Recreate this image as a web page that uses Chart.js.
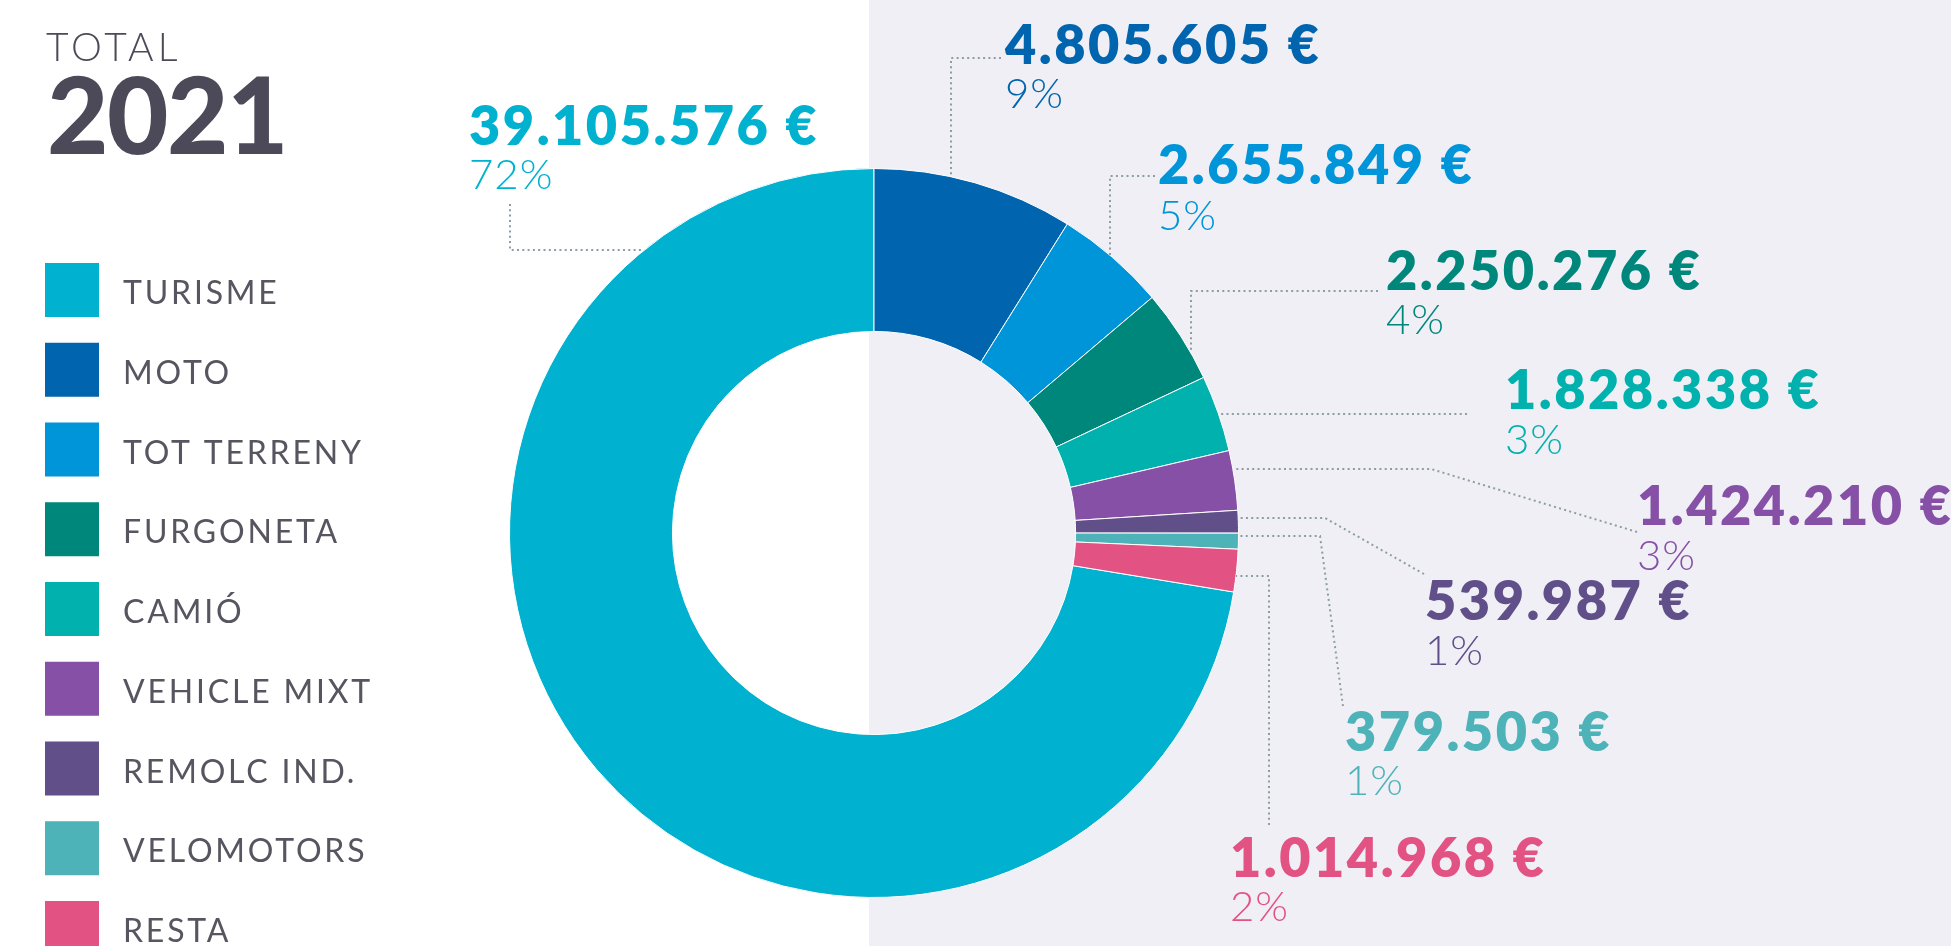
<!DOCTYPE html>
<html lang="ca">
<head>
<meta charset="utf-8">
<title>Total 2021</title>
<script src="https://cdn.jsdelivr.net/npm/chart.js"></script>
<style>
  html, body { margin: 0; padding: 0; }
  body { width: 1951px; height: 946px; overflow: hidden; background: #ffffff; position: relative; }
  #fondo { position: absolute; left: 869px; top: 0; right: 0; bottom: 0; background: #efeff5; }
  #myChart { position: absolute; left: 0; top: 0; }
</style>
</head>
<body>
<div id="fondo"></div>
<canvas id="myChart" width="1951" height="946"></canvas>
<script>
// Datos del gráfico
const titulo = 'TOTAL';
const anyo = '2021';
const categorias = ['TURISME', 'MOTO', 'TOT TERRENY', 'FURGONETA', 'CAMIÓ', 'VEHICLE MIXT', 'REMOLC IND.', 'VELOMOTORS', 'RESTA'];
const importes = [39105576, 4805605, 2655849, 2250276, 1828338, 1424210, 539987, 379503, 1014968];
const colores = ['#00b2cf', '#0065ae', '#0095d9', '#00877c', '#00b1ae', '#8650a6', '#614f89', '#4db3b8', '#e25283'];

// Donde va cada etiqueta (x, base del importe, base del %) y los puntos de la línea punteada.
// 'v' = baja en vertical hasta el aro, 'h' = va en horizontal hasta el aro
const etiquetas = [
    { x: 469, y1: 145, y2: 189, linea: [[510, 204], [510, 250]], hacia: 'h' },
    { x: 1005, y1: 64, y2: 108, linea: [[1001, 58], [951, 58]], hacia: 'v' },
    { x: 1158, y1: 184, y2: 230, linea: [[1155, 176], [1110, 176]], hacia: 'v' },
    { x: 1386, y1: 290, y2: 334, linea: [[1378, 291], [1191, 291]], hacia: 'v' },
    { x: 1505, y1: 409, y2: 454, linea: [[1467, 414]], hacia: 'h' },
    { x: 1637, y1: 525, y2: 570, linea: [[1637, 532], [1431, 469]], hacia: 'h' },
    { x: 1425, y1: 620, y2: 665, linea: [[1424, 574], [1325, 518]], hacia: 'h' },
    { x: 1345, y1: 751, y2: 795, linea: [[1343, 706], [1320, 536]], hacia: 'h' },
    { x: 1230, y1: 877, y2: 921, linea: [[1269, 825], [1269, 576]], hacia: 'h' }
];

const total = importes.reduce((a, b) => a + b, 0);
const formatoEuros = (n) => n.toString().replace(/\B(?=(\d{3})+(?!\d))/g, '.') + ' €';

const ctx = document.getElementById('myChart');

// Dibuja título, leyenda y etiquetas con sus líneas
const textos = {
    id: 'textos',
    afterDraw(chart) {
        const c = chart.ctx;
        const arcos = chart.getDatasetMeta(0).data;
        c.save();
        c.textBaseline = 'alphabetic';
        c.textAlign = 'left';

        // título
        c.fillStyle = '#4c4a59';
        c.letterSpacing = '4px';
        c.font = '300 39px Lato';
        c.fillText(titulo, 46, 61);
        c.letterSpacing = '-1.5px';
        c.font = '900 106px Lato';
        c.fillText(anyo, 47, 154);

        // leyenda
        categorias.forEach((cat, i) => {
            const y = 263 + i * 79.75;
            c.fillStyle = colores[i];
            c.fillRect(45, y, 54, 54);
            c.fillStyle = '#57555f';
            c.letterSpacing = '2.8px';
            c.font = '400 32px Lato';
            c.fillText(cat, 123, y + 41);
        });

        // líneas punteadas
        c.strokeStyle = '#8d9ca5';
        c.lineWidth = 2;
        c.setLineDash([2, 3.3]);
        arcos.forEach((arco, i) => {
            const e = etiquetas[i];
            const cx = arco.x, cy = arco.y, r = arco.outerRadius;
            const ult = e.linea[e.linea.length - 1];
            let fin;
            if (e.hacia === 'v') {
                const dx = ult[0] - cx;
                fin = [ult[0], cy + (ult[1] < cy ? -1 : 1) * Math.sqrt(r * r - dx * dx)];
            } else {
                const dy = ult[1] - cy;
                fin = [cx + (ult[0] > cx ? 1 : -1) * Math.sqrt(r * r - dy * dy), ult[1]];
            }
            c.beginPath();
            c.moveTo(e.linea[0][0], e.linea[0][1]);
            e.linea.slice(1).forEach(p => c.lineTo(p[0], p[1]));
            c.lineTo(fin[0], fin[1]);
            c.stroke();
        });
        c.setLineDash([]);

        // importes y porcentajes
        importes.forEach((valor, i) => {
            const e = etiquetas[i];
            c.fillStyle = colores[i];
            c.letterSpacing = '2.5px';
            c.font = '800 54px Lato';
            c.fillText(formatoEuros(valor), e.x, e.y1);
            c.letterSpacing = '1px';
            c.font = '300 42px Lato';
            c.fillText(Math.round(valor / total * 100) + '%', e.x, e.y2);
        });
        c.restore();
    }
};

const crearGrafico = () => {
    new Chart(ctx, {
        type: 'doughnut',
        data: {
            labels: categorias,
            datasets: [{
                data: importes,
                backgroundColor: colores,
                borderColor: '#ffffff',
                borderWidth: 1
            }]
        },
        options: {
            responsive: false,
            animation: false,
            events: [],
            // que la moto empiece arriba y el turisme cierre la vuelta
            rotation: 360 * (1 - importes[0] / total),
            cutout: '55.3%',
            layout: { padding: { left: 509, right: 712, top: 168, bottom: 48 } },
            plugins: {
                legend: { display: false },
                tooltip: { enabled: false }
            }
        },
        plugins: [textos]
    });
};

Promise.all([
    document.fonts.load('300 39px Lato'),
    document.fonts.load('400 32px Lato'),
    document.fonts.load('800 54px Lato'),
    document.fonts.load('900 106px Lato')
]).then(crearGrafico, crearGrafico);
</script>
</body>
</html>
